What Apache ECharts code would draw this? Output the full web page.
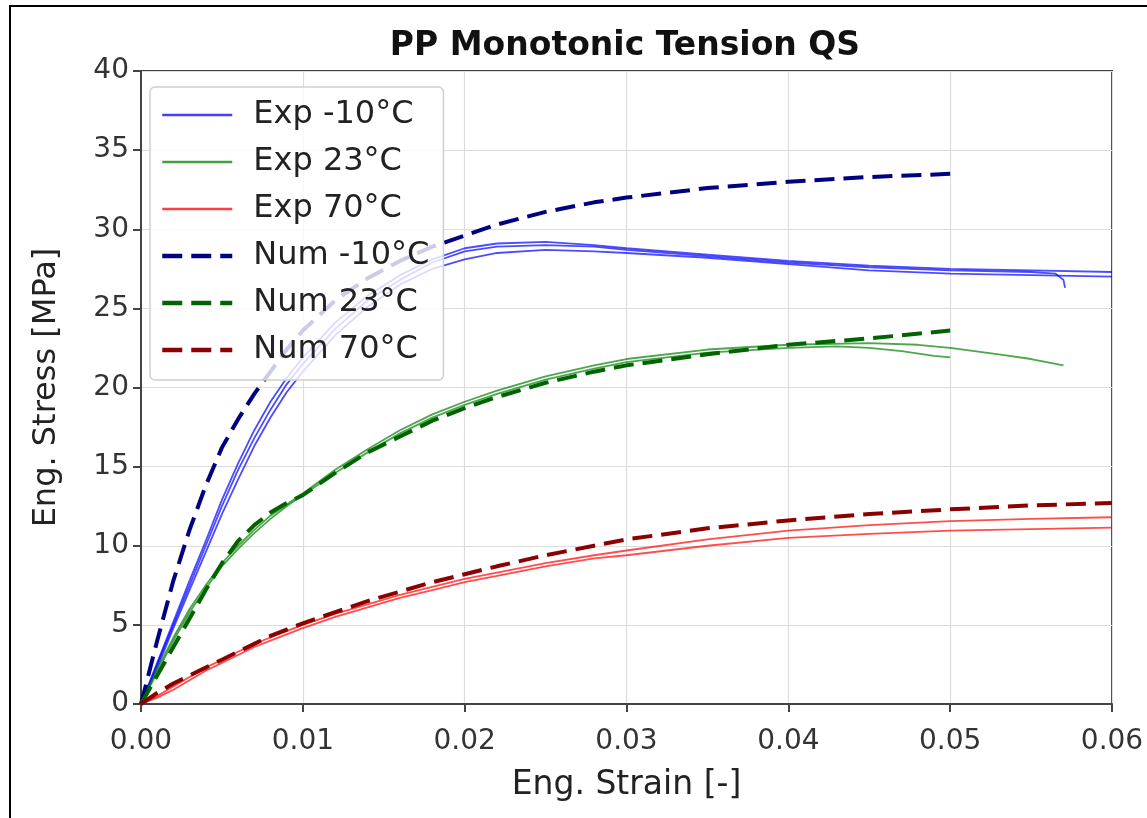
<!DOCTYPE html>
<html>
<head>
<meta charset="utf-8">
<script src="https://cdn.jsdelivr.net/npm/echarts@6/dist/echarts.min.js"></script>
<style>
html,body{margin:0;padding:0;background:#fff;}
#chart{width:1147px;height:818px;}
</style>
</head>
<body>
<div id="chart"></div>
<script>
// ---- Data (strain [-], stress [MPa]) ----
const xTicks = [0.00, 0.01, 0.02, 0.03, 0.04, 0.05, 0.06];
const yTicks = [0, 5, 10, 15, 20, 25, 30, 35, 40];
const legendNames = ['Exp -10°C', 'Exp 23°C', 'Exp 70°C', 'Num -10°C', 'Num 23°C', 'Num 70°C'];

const expM10A = [[0,0],[0.001,2.6],[0.002,5.2],[0.003,7.8],[0.004,10.3],[0.005,12.9],[0.006,15.2],[0.007,17.3],[0.008,19.1],[0.009,20.6],[0.010,21.9],[0.012,24.1],[0.014,25.8],[0.016,27.1],[0.018,28.1],[0.020,28.8],[0.022,29.1],[0.025,29.2],[0.028,29.0],[0.030,28.8],[0.035,28.4],[0.040,28.0],[0.045,27.7],[0.050,27.5],[0.055,27.4],[0.060,27.3]];
const expM10B = [[0,0],[0.001,2.3],[0.002,4.8],[0.003,7.2],[0.004,9.6],[0.005,12.0],[0.006,14.2],[0.007,16.3],[0.008,18.1],[0.009,19.7],[0.010,21.0],[0.012,23.3],[0.014,25.1],[0.016,26.5],[0.018,27.5],[0.020,28.1],[0.022,28.5],[0.025,28.7],[0.028,28.6],[0.030,28.5],[0.035,28.2],[0.040,27.8],[0.045,27.4],[0.050,27.2],[0.055,27.1],[0.060,27.0]];
const expM10C = [[0,0],[0.001,2.5],[0.002,5.0],[0.003,7.5],[0.004,10.0],[0.005,12.5],[0.006,14.8],[0.007,16.8],[0.008,18.6],[0.009,20.2],[0.010,21.5],[0.012,23.7],[0.014,25.5],[0.016,26.8],[0.018,27.9],[0.020,28.6],[0.022,28.9],[0.025,29.0],[0.028,28.9],[0.030,28.7],[0.035,28.3],[0.040,27.9],[0.045,27.6],[0.050,27.4],[0.055,27.3],[0.0565,27.2],[0.057,26.8],[0.0571,26.3]];

const exp23A = [[0,0],[0.001,2.2],[0.002,4.2],[0.003,6.0],[0.004,7.5],[0.005,8.9],[0.006,10.0],[0.007,11.0],[0.008,11.9],[0.009,12.6],[0.010,13.3],[0.012,14.8],[0.014,16.1],[0.016,17.3],[0.018,18.3],[0.020,19.1],[0.022,19.8],[0.025,20.7],[0.028,21.4],[0.030,21.8],[0.035,22.4],[0.040,22.7],[0.045,22.8],[0.048,22.7],[0.050,22.5],[0.053,22.1],[0.055,21.8],[0.057,21.4]];
const exp23B = [[0,0],[0.001,2.0],[0.002,4.0],[0.003,5.8],[0.004,7.3],[0.005,8.7],[0.006,9.8],[0.007,10.8],[0.008,11.7],[0.009,12.5],[0.010,13.2],[0.012,14.6],[0.014,15.9],[0.016,17.1],[0.018,18.1],[0.020,18.9],[0.022,19.6],[0.025,20.5],[0.028,21.2],[0.030,21.6],[0.035,22.2],[0.040,22.5],[0.043,22.6],[0.045,22.5],[0.047,22.3],[0.049,22.0],[0.050,21.9]];

const exp70A = [[0,0],[0.001,0.5],[0.002,1.1],[0.003,1.7],[0.004,2.3],[0.005,2.8],[0.006,3.3],[0.007,3.8],[0.008,4.2],[0.009,4.6],[0.010,5.0],[0.012,5.7],[0.014,6.3],[0.016,6.9],[0.018,7.4],[0.020,7.9],[0.022,8.3],[0.025,8.9],[0.028,9.4],[0.030,9.7],[0.035,10.4],[0.040,10.95],[0.045,11.3],[0.050,11.55],[0.055,11.7],[0.060,11.8]];
const exp70B = [[0,0],[0.001,0.4],[0.002,0.9],[0.003,1.5],[0.004,2.1],[0.005,2.6],[0.006,3.1],[0.007,3.6],[0.008,4.0],[0.009,4.4],[0.010,4.8],[0.012,5.5],[0.014,6.1],[0.016,6.7],[0.018,7.2],[0.020,7.7],[0.022,8.1],[0.025,8.7],[0.028,9.2],[0.030,9.4],[0.035,10.0],[0.040,10.5],[0.045,10.75],[0.050,10.95],[0.055,11.05],[0.060,11.15]];

const numM10 = [[0,0],[0.001,4.0],[0.002,7.8],[0.003,11.0],[0.004,13.8],[0.005,16.2],[0.006,18.0],[0.007,19.6],[0.008,21.0],[0.009,22.4],[0.010,23.6],[0.012,25.5],[0.014,26.9],[0.016,28.0],[0.018,28.9],[0.020,29.6],[0.022,30.3],[0.025,31.1],[0.028,31.7],[0.030,32.0],[0.035,32.6],[0.040,33.0],[0.045,33.3],[0.050,33.5]];
const num23 = [[0,0],[0.001,1.8],[0.002,3.6],[0.003,5.4],[0.004,7.2],[0.005,8.9],[0.006,10.3],[0.007,11.3],[0.008,12.1],[0.009,12.7],[0.010,13.2],[0.012,14.6],[0.014,15.9],[0.016,16.9],[0.018,17.9],[0.020,18.7],[0.022,19.4],[0.025,20.3],[0.028,21.0],[0.030,21.4],[0.035,22.1],[0.040,22.7],[0.045,23.1],[0.050,23.6]];
const num70 = [[0,0],[0.001,0.7],[0.002,1.3],[0.003,1.8],[0.004,2.3],[0.005,2.8],[0.006,3.3],[0.007,3.8],[0.008,4.3],[0.009,4.7],[0.010,5.1],[0.012,5.8],[0.014,6.5],[0.016,7.1],[0.018,7.7],[0.020,8.2],[0.022,8.7],[0.025,9.4],[0.028,10.0],[0.030,10.4],[0.035,11.1],[0.040,11.6],[0.045,12.0],[0.050,12.3],[0.055,12.55],[0.060,12.7]];

// ---- Chart ----
const FONT = 'DejaVu Sans';
const NUM_DASH = [20, 9];
function expSeries(name, data, color) {
  return {name: name, type: 'line', data: data, symbol: 'none', smooth: false,
    lineStyle: {color: color, width: 1.8, opacity: 0.7}, itemStyle: {color: color}, z: 2};
}
function numSeries(name, data, color) {
  return {name: name, type: 'line', data: data, symbol: 'none', smooth: false,
    lineStyle: {color: color, width: 4, type: NUM_DASH}, itemStyle: {color: color}, z: 3};
}
const legendData = legendNames.map((n, i) => ({
  name: n,
  lineStyle: i < 3 ? {width: 2.5, opacity: 0.75} : {width: 4.5, type: NUM_DASH}
}));
const chart = echarts.init(document.getElementById('chart'), null, {renderer: 'canvas'});
chart.setOption({
  animation: false,
  backgroundColor: '#fff',
  textStyle: {fontFamily: FONT},
  title: {
    text: 'PP Monotonic Tension QS', left: 620, top: 25, textAlign: 'center',
    textStyle: {fontFamily: FONT, fontSize: 33, fontWeight: 'bold', color: '#111'}
  },
  graphic: [{
    type: 'rect', shape: {x: 10, y: 6, width: 1300, height: 1000},
    style: {fill: 'none', stroke: '#000', lineWidth: 2}, silent: true, z: 100
  }],
  grid: {left: 141, right: 35, top: 71, bottom: 114, show: true, borderColor: '#444', borderWidth: 2, backgroundColor: 'transparent'},
  legend: {
    data: legendData, orient: 'vertical', left: 150, top: 87,
    itemWidth: 70, itemHeight: 32, itemGap: 15,
    padding: [12, 14, 14, 10],
    backgroundColor: 'rgba(255,255,255,0.8)', borderColor: '#d0d0d0', borderWidth: 1.5, borderRadius: 5,
    itemStyle: {opacity: 0},
    textStyle: {fontFamily: FONT, fontSize: 32, color: '#222', padding: [0, 0, 0, 16]},
    z: 10
  },
  xAxis: {
    type: 'value', min: xTicks[0], max: xTicks[xTicks.length - 1], interval: 0.01,
    name: 'Eng. Strain [-]', nameLocation: 'middle', nameGap: 65,
    nameTextStyle: {fontFamily: FONT, fontSize: 33, color: '#222'},
    axisLine: {show: true, lineStyle: {color: '#444', width: 2}},
    axisTick: {show: true, inside: false, length: 8, lineStyle: {color: '#444', width: 2}},
    axisLabel: {fontFamily: FONT, fontSize: 28, color: '#333', margin: 24, formatter: v => v.toFixed(2)},
    splitLine: {show: true, lineStyle: {color: '#dcdcdc', width: 1.2}}
  },
  yAxis: {
    type: 'value', min: yTicks[0], max: yTicks[yTicks.length - 1], interval: 5,
    name: 'Eng. Stress [MPa]', nameLocation: 'middle', nameGap: 78, nameRotate: 90,
    nameTextStyle: {fontFamily: FONT, fontSize: 32, color: '#222'},
    axisLine: {show: true, lineStyle: {color: '#444', width: 2}},
    axisTick: {show: true, inside: false, length: 8, lineStyle: {color: '#444', width: 2}},
    axisLabel: {fontFamily: FONT, fontSize: 28, color: '#333', margin: 12},
    splitLine: {show: true, lineStyle: {color: '#dcdcdc', width: 1.2}}
  },
  series: [
    expSeries(legendNames[0], expM10A, '#0000ff'),
    expSeries(legendNames[0], expM10B, '#0000ff'),
    expSeries(legendNames[0], expM10C, '#0000ff'),
    expSeries(legendNames[1], exp23A, '#008000'),
    expSeries(legendNames[1], exp23B, '#008000'),
    expSeries(legendNames[2], exp70A, '#ff0000'),
    expSeries(legendNames[2], exp70B, '#ff0000'),
    numSeries(legendNames[3], numM10, '#000080'),
    numSeries(legendNames[4], num23, '#006400'),
    numSeries(legendNames[5], num70, '#8b0000')
  ]
});
</script>
</body>
</html>
